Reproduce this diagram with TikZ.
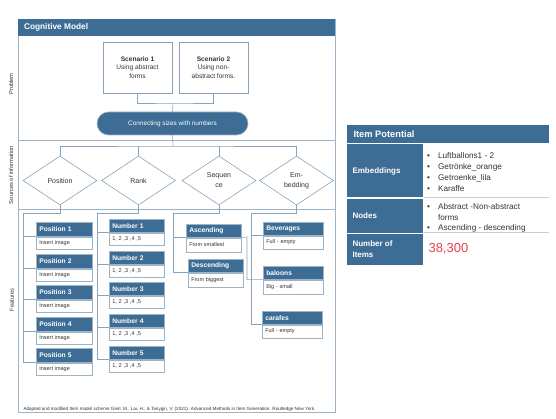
\documentclass[tikz,border=0pt]{standalone}
\usepackage{fontspec}
\setmainfont{Liberation Sans}
\usetikzlibrary{shapes.geometric,positioning}
\definecolor{dblue}{HTML}{3D6D94}
\definecolor{edge}{HTML}{9DB3C6}
\definecolor{conn}{HTML}{8AA3B8}
\definecolor{numred}{HTML}{E8404F}
\definecolor{txt}{HTML}{333333}
\definecolor{sep}{HTML}{C3D0DA}
\newcommand{\fsz}[2]{\fontsize{#1}{#2}\selectfont}
\newcommand{\featbox}[9]{%
  \node[fhead, text width=#5pt, minimum height=#6pt, anchor=north west] (#1h) at (#2,#3) {#8};
  \node[fbody, text width=#5pt, minimum height=#7pt, anchor=north west] (#1b) at (#1h.south west) {#9};
}
\tikzset{
  fhead/.style={fill=dblue, draw=edge, line width=0.6pt, text=white, inner xsep=3pt, inner ysep=0pt, align=left, font=\bfseries\fsz{6.7}{7}},
  fbody/.style={fill=white, draw=edge, line width=0.6pt, text=txt, inner xsep=3pt, inner ysep=0pt, align=left, font=\fsz{5.5}{6}},
  diam/.style={draw=conn, line width=0.6pt, diamond, minimum width=74pt, minimum height=49pt, inner sep=0pt, align=center, text=txt, font=\fsz{7}{10}},
  scen/.style={draw=conn, line width=0.6pt, minimum width=69pt, minimum height=51pt, align=center, text=txt, font=\fsz{6.6}{8.5}},
  conline/.style={draw=conn, line width=0.6pt},
  sidelab/.style={rotate=90, text=txt, font=\fsz{5.8}{6}},
  tlab/.style={text=white, font=\bfseries\fsz{8}{10.5}, align=left, anchor=west},
}
\begin{document}
\begin{tikzpicture}[x=1pt,y=-1pt]
\useasboundingbox (0,0) rectangle (556,419);
% main frame
\node[draw=edge, line width=0.7pt, minimum width=317pt, minimum height=393pt, inner sep=0pt, anchor=north west] (frame) at (18,19) {};
\node[fill=dblue, minimum width=317pt, minimum height=17pt, inner sep=0pt, anchor=north west] (hdr) at (18,19) {};
\node[text=white, font=\bfseries\fsz{8.3}{9}, anchor=west] (hdrtxt) at (20.5,27.5) {Cognitive Model};
\coordinate (sepAl) at (18,140); \coordinate (sepAr) at (335,140);
\coordinate (sepBl) at (18,209); \coordinate (sepBr) at (335,209);
\draw[draw=edge, line width=0.7pt] (sepAl) -- (sepAr);
\draw[draw=edge, line width=0.7pt] (sepBl) -- (sepBr);
% side labels
\node[sidelab] (lprob) at (11,84) {Problem};
\node[sidelab] (lsrc) at (11,175) {Sources of information};
\node[sidelab] (lfeat) at (12,300) {Features};
% scenarios
\node[scen] (s1) at (137.5,67.5) {\textbf{Scenario 1}\\Using abstract\\forms};
\node[scen] (s2) at (213.5,67.5) {\textbf{Scenario 2}\\Using non-\\abstract forms.};
\node[fill=dblue, draw=edge, line width=0.6pt, rounded corners=11.5pt, minimum width=151pt, minimum height=23pt, inner sep=0pt, text=white, font=\fsz{6.4}{7}] (pill) at (172.5,123.5) {Connecting sizes with numbers};
\coordinate (jS) at (173,103);
\draw[conline] (s1.south) |- (jS) -| (s2.south);
\draw[conline] (jS) -- (pill.north);
% diamonds
\node[diam] (dP) at (60,180.5) {Position};
\node[diam] (dR) at (138.5,180.5) {Rank};
\node[diam] (dS) at (219,180.5) {Sequen\\ce};
\node[diam] (dE) at (296.5,180.5) {Em-\\bedding};
\coordinate (jD) at (173,146);
\draw[conline] (pill.south) -- (jD);
\draw[conline] (dP.north) |- (jD) -| (dE.north);
\draw[conline] (dR.north) -- (dR.north |- jD);
\draw[conline] (dS.north) -- (dS.north |- jD);
% feature boxes
\featbox{p1}{36}{222}{56}{50}{14}{12}{Position 1}{Insert image}
\featbox{p2}{36}{254}{56}{50}{14}{12}{Position 2}{Insert image}
\featbox{p3}{36}{285}{56}{50}{14}{12}{Position 3}{Insert image}
\featbox{p4}{36}{317}{56}{50}{14}{12}{Position 4}{Insert image}
\featbox{p5}{36}{348}{56}{50}{14}{12}{Position 5}{Insert image}
\featbox{n1}{109}{219}{55}{49}{13}{12}{Number 1}{1, 2 ,3 ,4 ,5}
\featbox{n2}{109}{251}{55}{49}{13}{12}{Number 2}{1, 2 ,3 ,4 ,5}
\featbox{n3}{109}{282}{55}{49}{13}{12}{Number 3}{1, 2 ,3 ,4 ,5}
\featbox{n4}{109}{314}{55}{49}{13}{12}{Number 4}{1, 2 ,3 ,4 ,5}
\featbox{n5}{109}{346}{55}{49}{13}{12}{Number 5}{1, 2 ,3 ,4 ,5}
\featbox{asc}{186}{224}{55}{49}{13}{14}{Ascending}{From smallest}
\featbox{des}{188}{259}{55}{49}{13}{14}{Descending}{From biggest}
\featbox{bev}{263}{222}{60}{54}{13}{13}{Beverages}{Full -  empty}
\featbox{bal}{263}{266}{60}{54}{13}{14}{baloons}{Big - small}
\featbox{car}{262}{311}{60}{54}{13}{13}{carafes}{Full - empty}
% connectors to features
\coordinate (tP) at (23,213);
\coordinate (tN) at (97,213);
\coordinate (tS) at (173,213);
\coordinate (tE) at (251,213);
\draw[conline] (dP.south) |- (tP);
\draw[conline] (dR.south) |- (tN);
\draw[conline] (dS.south) |- (tS);
\draw[conline] (dE.south) |- (tE);
\foreach \b in {p1,p2,p3,p4,p5} { \draw[conline] (tP) |- (\b h.south west); }
\foreach \b in {n1,n2,n3,n4,n5} { \draw[conline] (tN) |- (\b h.south west); }
\foreach \b in {asc,des} { \draw[conline] (tS) |- (\b h.south west); }
\foreach \b in {bev,car} { \draw[conline] (tE) |- (\b h.south west); }
\coordinate (kB) at (247,237);
\draw[conline] (asch.south east) -- (kB) |- (balh.south west);
% citation
\node[text=txt, font=\fsz{4.6}{5}, anchor=west] (cite) at (20,409.5) {Adapted and modified Item model scheme Gierl, M., Lai, H., \& Tanygin, V. (2021). Advanced Methods in Item Generation. Routledge New York.};
% item potential table
\node[fill=dblue, minimum width=202pt, minimum height=18pt, inner sep=0pt, anchor=north west] (iph) at (347,125) {};
\node[text=white, font=\bfseries\fsz{9.3}{10}, anchor=west] (iptxt) at (350,134) {Item Potential};
\node[fill=dblue, minimum width=76pt, minimum height=53pt, inner sep=0pt, anchor=north west] (c1) at (347,144) {};
\node[fill=dblue, minimum width=76pt, minimum height=34pt, inner sep=0pt, anchor=north west] (c2) at (347,199) {};
\node[fill=dblue, minimum width=76pt, minimum height=31pt, inner sep=0pt, anchor=north west] (c3) at (347,234) {};
\coordinate (r1l) at (424,198); \coordinate (r1r) at (549,198);
\coordinate (r2l) at (424,233); \coordinate (r2r) at (549,233);
\draw[draw=sep, line width=1pt] (r1l) -- (r1r);
\draw[draw=sep, line width=1pt] (r2l) -- (r2r);
\node[tlab] (t1) at (349,171) {Embeddings};
\node[tlab] (t2) at (349,216) {Nodes};
\node[tlab] (t3) at (349,249) {Number of\\Items};
\node[anchor=north west, inner sep=0pt, text=txt, font=\fsz{8.2}{11}] (l1) at (427,150.5) {\begin{tabular}{@{}l@{\hspace{8pt}}l@{}}\textbullet & Luftballons1 - 2\\ \textbullet & Getr\"onke\_orange\\ \textbullet & Getroenke\_lila\\ \textbullet & Karaffe\end{tabular}};
\node[anchor=north west, inner sep=0pt, text=txt, font=\fsz{8.2}{10.5}] (l2) at (427,202) {\begin{tabular}{@{}l@{\hspace{8pt}}l@{}}\textbullet & Abstract -Non-abstract\\ & forms\\ \textbullet & Ascending - descending\end{tabular}};
\node[anchor=west, text=numred, font=\fsz{13}{14}] (num) at (425,249) {38,300};
\end{tikzpicture}
\end{document}
